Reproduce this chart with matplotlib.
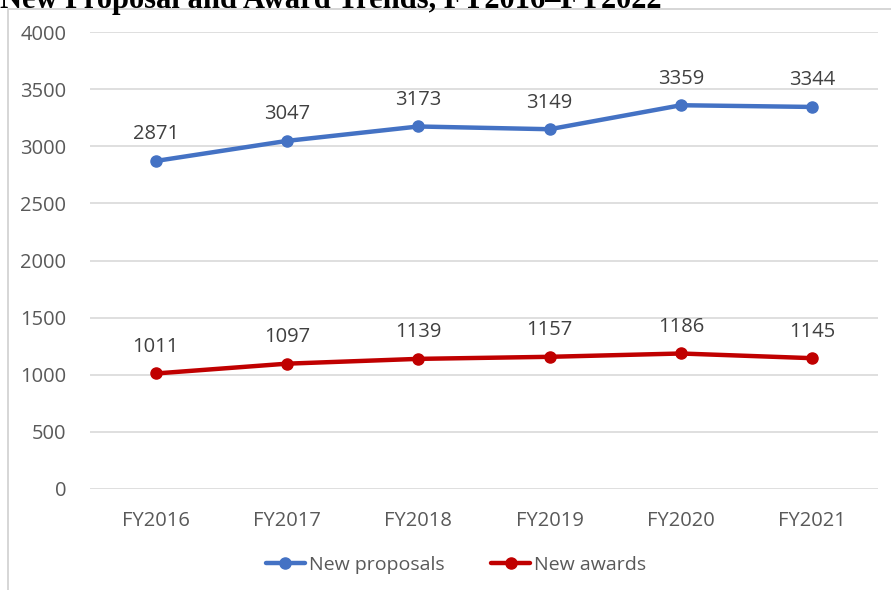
import matplotlib.pyplot as plt
from matplotlib.patches import Rectangle

plt.rcParams["font.family"] = ["Open Sans", "DejaVu Sans"]

years = ["FY2016", "FY2017", "FY2018", "FY2019", "FY2020", "FY2021"]
proposals = [2871, 3047, 3173, 3149, 3359, 3344]
awards = [1011, 1097, 1139, 1157, 1186, 1145]
y_ticks = [0, 500, 1000, 1500, 2000, 2500, 3000, 3500, 4000]

W, H = 891, 590
fig = plt.figure(figsize=(W / 100, H / 100), dpi=100)

# frame around the chart (only top/left visible in the crop)
fig.patches.append(Rectangle((8 / W, -0.1), 1.2, 1 - 9 / H + 0.1, transform=fig.transFigure,
                             fill=False, edgecolor="#d0d0d0", linewidth=1.2))

# title, cut off by the top of the image
fig.text(0 / W, 1 - 8 / H, "New Proposal and Award Trends, FY2016\u2013FY2022",
         family="Liberation Serif", weight="bold", fontsize=22, color="black",
         ha="left", va="baseline")

ax = fig.add_axes([90 / W, 1 - 489 / H, (878 - 90) / W, (489 - 32) / H])
x = range(len(years))
ax.plot(x, proposals, color="#4472C4", linewidth=3.2, marker="o", markersize=8,
        label="New proposals", solid_capstyle="round")
ax.plot(x, awards, color="#C00000", linewidth=3.2, marker="o", markersize=8,
        label="New awards", solid_capstyle="round")

for i, v in enumerate(proposals):
    ax.annotate(str(v), (i, v), xytext=(0, 12), textcoords="offset points",
                ha="center", va="bottom", fontsize=14.5, color="#404040")
for i, v in enumerate(awards):
    ax.annotate(str(v), (i, v), xytext=(0, 12), textcoords="offset points",
                ha="center", va="bottom", fontsize=14.5, color="#404040")

ax.set_xlim(-0.5, len(years) - 0.5)
ax.set_ylim(0, 4000)
ax.set_yticks(y_ticks)
ax.set_xticks(list(x))
ax.set_xticklabels(years)
ax.yaxis.grid(True, color="#d9d9d9", linewidth=1.2)
ax.set_axisbelow(True)
for s in ax.spines.values():
    s.set_visible(False)
ax.tick_params(axis="both", length=0, labelsize=14.5, colors="#595959")
ax.tick_params(axis="y", pad=17)
ax.tick_params(axis="x", pad=16)

fig.legend(loc="center", bbox_to_anchor=(456 / W, 1 - 565 / H), ncol=2, frameon=False,
           fontsize=14, labelcolor="#595959", handlelength=2.0, handletextpad=0.2,
           columnspacing=2.4)

fig.savefig("out.png", dpi=100, facecolor="white")
